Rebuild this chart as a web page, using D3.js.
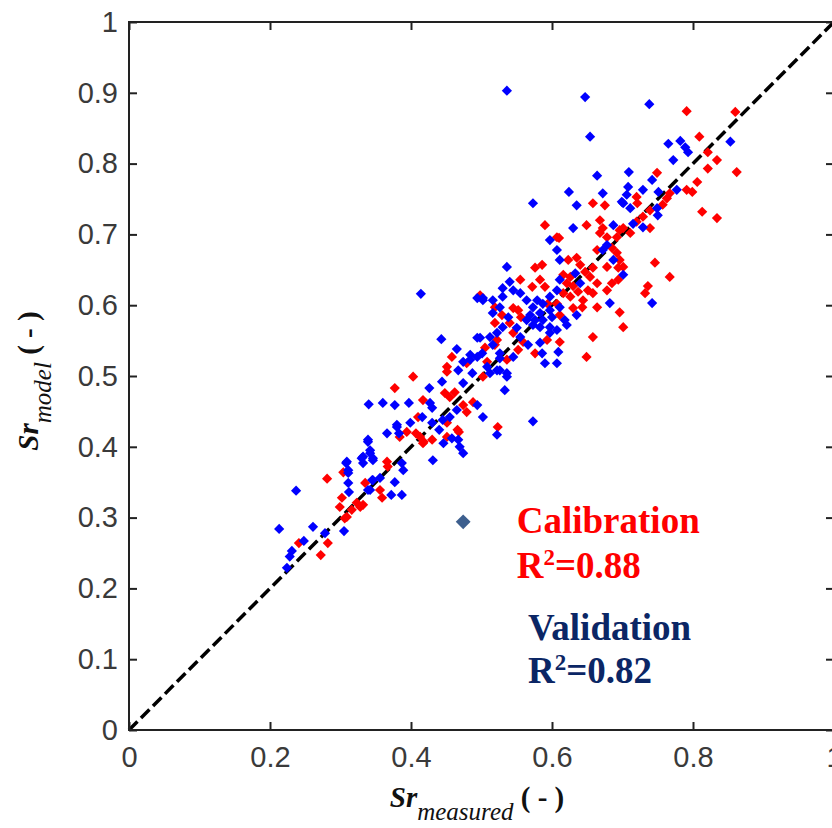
<!DOCTYPE html>
<html>
<head>
<meta charset="utf-8">
<script src="https://cdn.jsdelivr.net/npm/d3@7"></script>
<style>
  html, body { margin: 0; padding: 0; background: #ffffff; }
  svg { display: block; }
</style>
</head>
<body>
<svg id="chart"></svg>
<script>
// calibration points (red), [Sr measured, Sr model]
const calibration = [
  [0.272,0.247],[0.282,0.264],[0.281,0.355],[0.304,0.364],[0.302,0.328],[0.299,0.315],
  [0.306,0.299],[0.323,0.321],[0.328,0.315],[0.335,0.349],[0.316,0.311],[0.241,0.264],
  [0.403,0.499],[0.377,0.483],[0.448,0.476],[0.451,0.513],[0.394,0.421],[0.407,0.419],
  [0.413,0.414],[0.418,0.407],[0.468,0.421],[0.366,0.379],[0.367,0.372],[0.356,0.339],
  [0.359,0.328],[0.332,0.318],[0.309,0.301],[0.498,0.614],[0.519,0.597],[0.519,0.575],
  [0.522,0.551],[0.458,0.527],[0.508,0.520],[0.451,0.506],[0.502,0.499],[0.455,0.470],
  [0.462,0.477],[0.474,0.459],[0.479,0.449],[0.488,0.463],[0.451,0.434],[0.417,0.466],
  [0.410,0.442],[0.384,0.414],[0.417,0.405],[0.430,0.410],[0.451,0.414],[0.466,0.424],
  [0.523,0.428],[0.658,0.744],[0.675,0.741],[0.721,0.744],[0.590,0.713],[0.649,0.713],
  [0.668,0.720],[0.672,0.709],[0.701,0.709],[0.711,0.702],[0.668,0.702],[0.678,0.696],
  [0.692,0.696],[0.607,0.696],[0.623,0.664],[0.635,0.667],[0.640,0.657],[0.664,0.678],
  [0.685,0.681],[0.692,0.674],[0.696,0.664],[0.701,0.654],[0.678,0.654],[0.694,0.636],
  [0.685,0.631],[0.664,0.631],[0.654,0.640],[0.647,0.647],[0.658,0.653],[0.626,0.640],
  [0.616,0.643],[0.621,0.631],[0.630,0.627],[0.637,0.619],[0.651,0.621],[0.658,0.617],
  [0.626,0.612],[0.616,0.617],[0.590,0.626],[0.583,0.636],[0.576,0.653],[0.586,0.657],
  [0.555,0.636],[0.572,0.626],[0.594,0.602],[0.607,0.602],[0.611,0.586],[0.630,0.596],
  [0.643,0.597],[0.552,0.593],[0.556,0.583],[0.545,0.596],[0.529,0.586],[0.540,0.575],
  [0.545,0.561],[0.559,0.548],[0.593,0.551],[0.611,0.548],[0.576,0.532],[0.552,0.537],
  [0.536,0.523],[0.519,0.544],[0.505,0.540],[0.479,0.518],[0.658,0.555],[0.649,0.527],
  [0.678,0.621],[0.696,0.590],[0.701,0.569],[0.644,0.607],[0.664,0.597],[0.610,0.695],
  [0.809,0.838],[0.821,0.816],[0.834,0.805],[0.821,0.793],[0.862,0.788],[0.749,0.787],
  [0.806,0.774],[0.791,0.763],[0.799,0.760],[0.767,0.758],[0.720,0.753],[0.763,0.751],
  [0.757,0.742],[0.739,0.734],[0.729,0.725],[0.720,0.718],[0.739,0.709],[0.813,0.732],
  [0.834,0.723],[0.696,0.706],[0.746,0.660],[0.767,0.640],[0.736,0.627],[0.732,0.617],
  [0.694,0.653],[0.791,0.874],[0.860,0.873]
];

// validation points (blue)
const validation = [
  [0.237,0.338],[0.213,0.284],[0.261,0.287],[0.248,0.267],[0.231,0.253],[0.228,0.245],
  [0.224,0.229],[0.278,0.278],[0.305,0.281],[0.308,0.377],[0.311,0.363],[0.311,0.349],
  [0.312,0.336],[0.332,0.386],[0.339,0.410],[0.342,0.395],[0.346,0.384],[0.345,0.353],
  [0.339,0.339],[0.414,0.616],[0.443,0.552],[0.494,0.554],[0.465,0.538],[0.340,0.460],
  [0.360,0.462],[0.377,0.459],[0.397,0.462],[0.426,0.483],[0.427,0.462],[0.366,0.419],
  [0.380,0.431],[0.383,0.419],[0.416,0.442],[0.430,0.434],[0.440,0.424],[0.446,0.405],
  [0.458,0.412],[0.469,0.400],[0.474,0.391],[0.431,0.381],[0.339,0.407],[0.342,0.391],
  [0.346,0.381],[0.330,0.384],[0.332,0.377],[0.387,0.377],[0.389,0.367],[0.309,0.379],
  [0.311,0.367],[0.346,0.353],[0.356,0.356],[0.342,0.339],[0.372,0.332],[0.387,0.332],
  [0.377,0.350],[0.494,0.610],[0.502,0.610],[0.530,0.612],[0.522,0.561],[0.516,0.544],
  [0.484,0.530],[0.474,0.520],[0.501,0.532],[0.526,0.525],[0.467,0.508],[0.487,0.504],
  [0.512,0.504],[0.526,0.508],[0.536,0.499],[0.444,0.492],[0.474,0.490],[0.533,0.480],
  [0.494,0.459],[0.502,0.442],[0.465,0.452],[0.455,0.442],[0.445,0.438],[0.430,0.455],
  [0.399,0.434],[0.380,0.428],[0.467,0.410],[0.522,0.417],[0.573,0.744],[0.635,0.741],
  [0.701,0.744],[0.711,0.737],[0.630,0.709],[0.687,0.713],[0.715,0.715],[0.597,0.692],
  [0.607,0.678],[0.611,0.664],[0.672,0.678],[0.678,0.685],[0.687,0.664],[0.701,0.643],
  [0.633,0.645],[0.611,0.636],[0.640,0.631],[0.607,0.621],[0.597,0.612],[0.536,0.654],
  [0.540,0.633],[0.530,0.624],[0.545,0.621],[0.555,0.617],[0.564,0.607],[0.579,0.607],
  [0.573,0.597],[0.587,0.602],[0.611,0.597],[0.597,0.593],[0.583,0.589],[0.569,0.586],
  [0.576,0.579],[0.587,0.579],[0.600,0.583],[0.618,0.579],[0.635,0.586],[0.621,0.572],
  [0.607,0.565],[0.597,0.569],[0.583,0.569],[0.573,0.572],[0.564,0.579],[0.526,0.597],
  [0.516,0.607],[0.502,0.607],[0.516,0.589],[0.538,0.583],[0.530,0.569],[0.550,0.568],
  [0.555,0.555],[0.566,0.544],[0.583,0.547],[0.597,0.561],[0.609,0.534],[0.586,0.532],
  [0.590,0.518],[0.607,0.518],[0.545,0.527],[0.526,0.532],[0.512,0.555],[0.498,0.554],
  [0.494,0.527],[0.484,0.523],[0.508,0.513],[0.522,0.508],[0.536,0.504],[0.682,0.603],
  [0.765,0.828],[0.782,0.832],[0.789,0.823],[0.793,0.816],[0.853,0.831],[0.772,0.805],
  [0.709,0.788],[0.742,0.777],[0.777,0.763],[0.751,0.760],[0.729,0.763],[0.708,0.767],
  [0.706,0.756],[0.699,0.746],[0.749,0.737],[0.750,0.727],[0.729,0.710],[0.672,0.758],
  [0.536,0.903],[0.647,0.894],[0.654,0.838],[0.738,0.884],[0.664,0.783],[0.624,0.760],
  [0.742,0.603],[0.573,0.436]
];

const xTicks = [0, 0.2, 0.4, 0.6, 0.8, 1];
const yTicks = [0, 0.1, 0.2, 0.3, 0.4, 0.5, 0.6, 0.7, 0.8, 0.9, 1];

const width = 832, height = 828;
const x = d3.scaleLinear().domain([0, 1]).range([129, 834]);
const y = d3.scaleLinear().domain([0, 1]).range([730, 22]);

const svg = d3.select("#chart")
    .attr("width", width)
    .attr("height", height)
    .attr("viewBox", `0 0 ${width} ${height}`);

// 1:1 line
svg.append("line")
    .attr("x1", x(0)).attr("y1", y(0))
    .attr("x2", x(1)).attr("y2", y(1))
    .attr("stroke", "#000")
    .attr("stroke-width", 3.5)
    .attr("stroke-dasharray", "12,5");

const diamond = d3.symbol(d3.symbolSquare, 52);

function drawPoints(data, color) {
    svg.append("g").selectAll("path")
        .data(data)
        .enter().append("path")
        .attr("d", diamond)
        .attr("transform", d => `translate(${x(d[0])},${y(d[1])}) rotate(45)`)
        .attr("fill", color);
}
drawPoints(calibration, "#ff0000");
drawPoints(validation, "#0000ff");

// axes, ticks pointing inward
const tickFont = "'Liberation Sans', Arial, sans-serif";
const styleAxis = g => {
    g.select(".domain").remove();
    g.selectAll("line").attr("stroke", "#222").attr("stroke-width", 2);
    g.selectAll("text").style("font-family", tickFont).style("font-size", "29px").attr("fill", "#3a3a3a");
};

svg.append("g")
    .attr("transform", `translate(0,${y(0)})`)
    .call(d3.axisBottom(x).tickValues(xTicks).tickSizeInner(-8).tickSizeOuter(0).tickPadding(16).tickFormat(d3.format("")))
    .call(styleAxis);

svg.append("g")
    .attr("transform", `translate(${x(0)},0)`)
    .call(d3.axisLeft(y).tickValues(yTicks).tickSizeInner(-8).tickSizeOuter(0).tickPadding(11).tickFormat(d3.format("")))
    .call(styleAxis);

svg.append("g")
    .attr("transform", `translate(0,${y(1)})`)
    .call(d3.axisTop(x).tickValues(xTicks).tickSizeInner(-8).tickSizeOuter(0).tickFormat(""))
    .call(styleAxis);

svg.append("g")
    .attr("transform", `translate(${x(1)},0)`)
    .call(d3.axisRight(y).tickValues(yTicks).tickSizeInner(-8).tickSizeOuter(0).tickFormat(""))
    .call(styleAxis);

// box
svg.append("rect")
    .attr("x", x(0)).attr("y", y(1))
    .attr("width", x(1) - x(0)).attr("height", y(0) - y(1))
    .attr("fill", "none")
    .attr("stroke", "#222")
    .attr("stroke-width", 2);

// axis titles
const serif = "'Liberation Serif', 'Times New Roman', serif";
function axisTitle(sel, sub) {
    sel.append("tspan").text("Sr").style("font-weight", "bold").style("font-style", "italic").style("font-size", "29px");
    sel.append("tspan").text(sub).attr("dy", 13).style("font-style", "italic").style("font-size", "25px");
    sel.append("tspan").text(" ( - )").attr("dy", -13).style("font-weight", "bold").style("font-size", "29px");
}
const xTitle = svg.append("text")
    .attr("x", 477).attr("y", 807)
    .attr("text-anchor", "middle")
    .style("font-family", serif).attr("fill", "#111");
axisTitle(xTitle, "measured");

const yTitle = svg.append("text")
    .attr("transform", "translate(38,381) rotate(-90)")
    .attr("text-anchor", "middle")
    .style("font-family", serif).attr("fill", "#111");
axisTitle(yTitle, "model");

// annotation
svg.append("path")
    .attr("d", d3.symbol(d3.symbolSquare, 110))
    .attr("transform", `translate(${x(0.474)},${y(0.294)}) rotate(45)`)
    .attr("fill", "#3d5f8e");

const notes = [
    { text: "Calibration", r2: null, px: 0.550, py: 0.278, color: "#ff0000" },
    { text: "R", r2: "=0.88", px: 0.550, py: 0.215, color: "#ff0000" },
    { text: "Validation", r2: null, px: 0.566, py: 0.127, color: "#0b2665" },
    { text: "R", r2: "=0.82", px: 0.566, py: 0.066, color: "#0b2665" }
];
notes.forEach(n => {
    const t = svg.append("text")
        .attr("x", x(n.px)).attr("y", y(n.py))
        .style("font-family", serif).style("font-size", "37px").style("font-weight", "bold")
        .attr("fill", n.color);
    t.append("tspan").text(n.text);
    if (n.r2) {
        t.append("tspan").text("2").attr("dy", -13).style("font-size", "23px");
        t.append("tspan").text(n.r2).attr("dy", 13);
    }
});
</script>
</body>
</html>
